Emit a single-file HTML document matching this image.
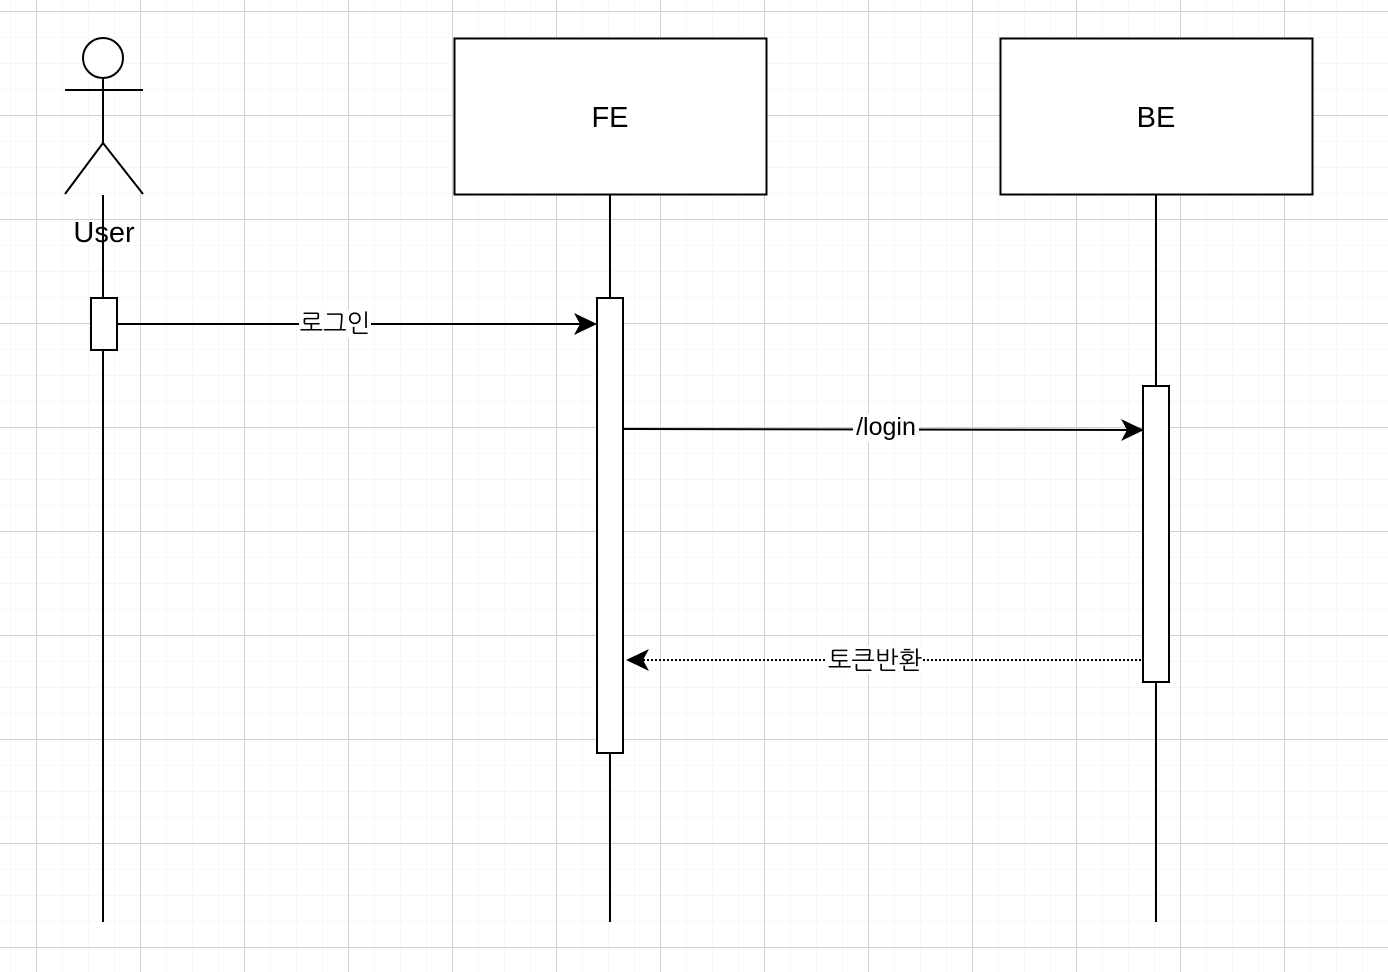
<!DOCTYPE html>
<html><head><meta charset="utf-8"><style>
html,body{margin:0;padding:0;background:#fff;}
svg{display:block}
text{font-family:"Liberation Sans","NanumGothic","Noto Sans CJK KR",sans-serif;fill:#000}
</style></head><body>
<svg width="1388" height="972" viewBox="0 0 1388 972" xmlns="http://www.w3.org/2000/svg">
<defs>
<pattern id="minor" width="26" height="26" patternUnits="userSpaceOnUse" x="10" y="11">
<path d="M0 0H26M0 0V26" stroke="#efefef" stroke-width="1" fill="none"/>
</pattern>
<pattern id="major" width="104" height="104" patternUnits="userSpaceOnUse" x="36" y="11">
<path d="M0 0.5H104M0.5 0V104" stroke="#d0d0d0" stroke-width="1" fill="none"/>
</pattern>
</defs>
<rect width="1388" height="972" fill="#fff"/>
<rect width="1388" height="972" fill="url(#minor)"/>
<rect width="1388" height="972" fill="url(#major)"/>

<g stroke="#000" stroke-width="2" fill="none">
<circle cx="103" cy="58" r="20" fill="#fff"/>
<line x1="103" y1="78" x2="103" y2="143"/>
<line x1="65" y1="90" x2="143" y2="90"/>
<line x1="103" y1="143" x2="65" y2="194"/>
<line x1="103" y1="143" x2="143" y2="194"/>
<line x1="103" y1="195" x2="103" y2="922"/>
<line x1="610" y1="194" x2="610" y2="922"/>
<line x1="1156" y1="194" x2="1156" y2="922"/>
<rect x="454.5" y="38.5" width="312" height="156" fill="#fff"/>
<rect x="1000.5" y="38.5" width="312" height="156" fill="#fff"/>
<rect x="91" y="298" width="26" height="52" fill="#fff"/>
<rect x="597" y="298" width="26" height="455" fill="#fff"/>
<rect x="1143" y="386" width="26" height="296" fill="#fff"/>
<line x1="117" y1="324" x2="588" y2="324"/>
<line x1="623" y1="429" x2="1134" y2="430"/>
<line x1="1141" y1="660" x2="638" y2="660" stroke-dasharray="2,2"/>
</g>
<g fill="#000">
<path d="M597 324 L574 313 L580 324 L574 335 Z"/>
<path d="M1144 430 L1121 419 L1127 430 L1121 441 Z"/>
<path d="M626 660 L649 649 L643 660 L649 671 Z"/>
</g>
<text x="104" y="242" font-size="29" text-anchor="middle">User</text>
<text x="610" y="127" font-size="29" text-anchor="middle">FE</text>
<text x="1156" y="127" font-size="29" text-anchor="middle">BE</text>
<rect x="299" y="310" width="72" height="28" fill="#fff"/>
<text x="335" y="332" font-size="25" text-anchor="middle">로그인</text>
<rect x="853" y="414" width="66" height="28" fill="#fff"/>
<text x="886" y="435" font-size="25" text-anchor="middle">/login</text>
<rect x="827" y="646" width="96" height="28" fill="#fff"/>
<text x="875" y="669" font-size="25" text-anchor="middle">토큰반환</text>
</svg>
</body></html>
